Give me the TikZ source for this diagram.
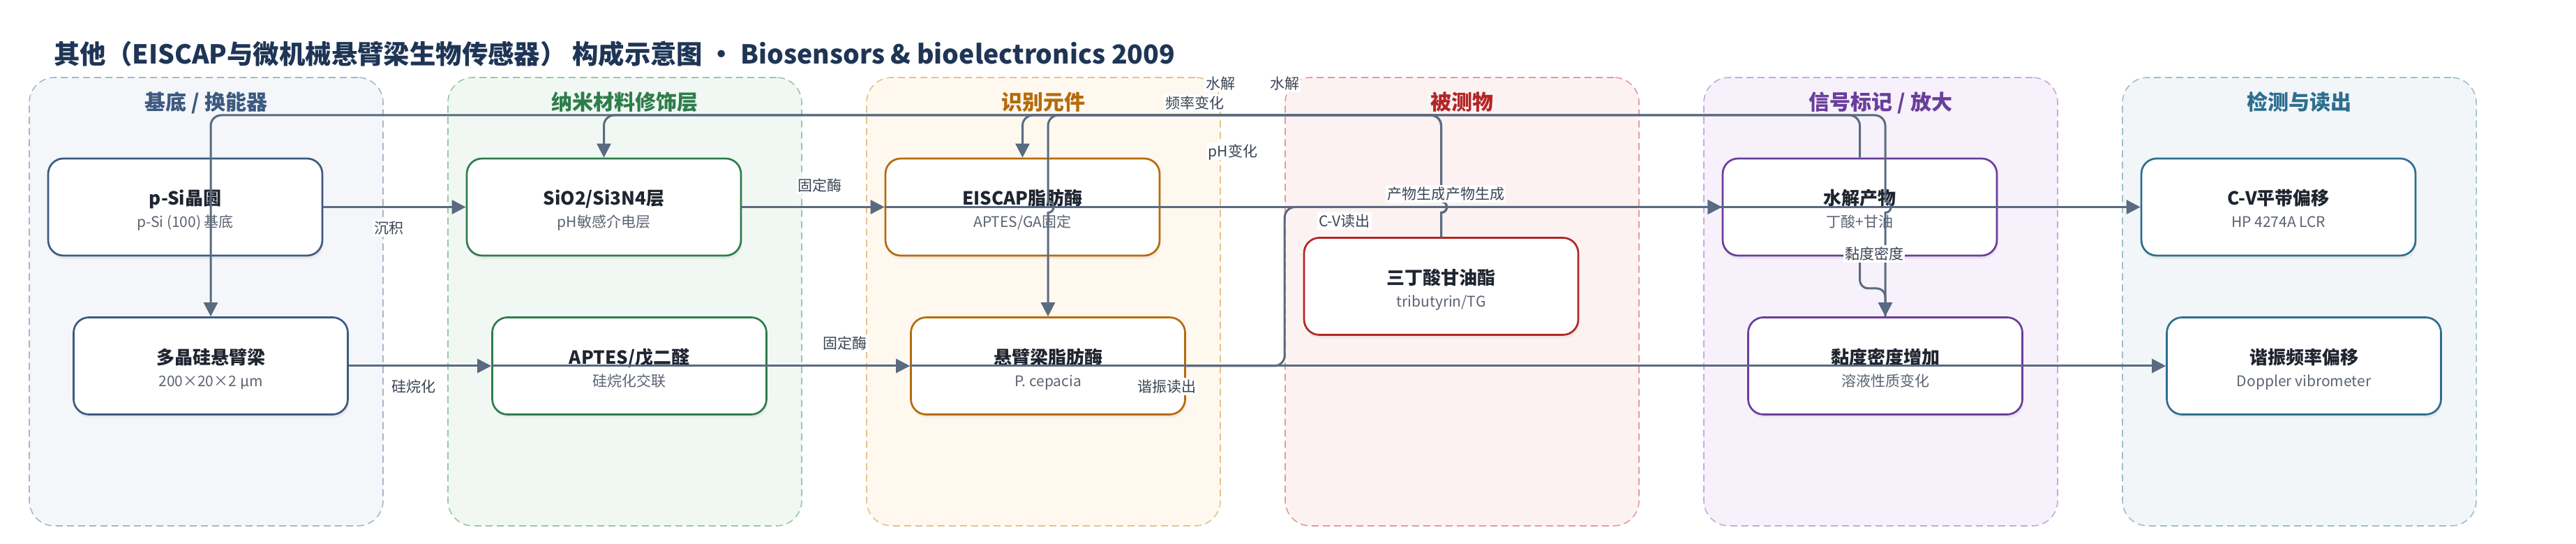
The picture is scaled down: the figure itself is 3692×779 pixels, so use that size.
\documentclass[tikz,border=0pt]{standalone}
\usepackage{fontspec}
\setmainfont{Noto Sans CJK SC}
\usetikzlibrary{arrows.meta,calc,shadows}
\definecolor{edgec}{HTML}{5A6A80}
\definecolor{ttlc}{HTML}{1F2530}
\definecolor{subc}{HTML}{5B6472}
\definecolor{lblc}{HTML}{3B4453}
\definecolor{mainc}{HTML}{1F3556}
\definecolor{gA}{HTML}{3D5A80}\definecolor{gAf}{HTML}{F4F6FA}\definecolor{gAb}{HTML}{A8B6C9}
\definecolor{gB}{HTML}{2E7D4B}\definecolor{gBf}{HTML}{F1F8F3}\definecolor{gBb}{HTML}{96C9A5}
\definecolor{gC}{HTML}{B56B0B}\definecolor{gCf}{HTML}{FEF8EF}\definecolor{gCb}{HTML}{E6C28C}
\definecolor{gD}{HTML}{B32626}\definecolor{gDf}{HTML}{FDF2F2}\definecolor{gDb}{HTML}{E29B9B}
\definecolor{gE}{HTML}{6A3D9B}\definecolor{gEf}{HTML}{F6F1FA}\definecolor{gEb}{HTML}{C6A9DF}
\definecolor{gF}{HTML}{2E6E8F}\definecolor{gFf}{HTML}{F2F6F8}\definecolor{gFb}{HTML}{9DBFCD}
\tikzset{
  grp/.style args={#1/#2}{draw=#1, fill=#2, dash pattern=on 5pt off 3pt, line width=0.8pt,
    rounded corners=18pt, minimum width=253.5pt, minimum height=321pt, inner sep=0pt},
  gttl/.style={font=\fontsize{15pt}{17pt}\selectfont\bfseries, text=#1, inner sep=0pt,
    text height=13.2pt, text depth=1.8pt},
  nbox/.style={draw=#1, line width=1.35pt, fill=white, rounded corners=11pt,
    minimum width=196.5pt, minimum height=69.5pt, inner sep=0pt,
    drop shadow={shadow xshift=0.8pt, shadow yshift=-2.5pt, opacity=0.10}},
  ttl/.style={font=\fontsize{13pt}{15pt}\selectfont\bfseries, text=ttlc, inner sep=0pt,
    text height=11.44pt, text depth=1.56pt},
  sub/.style={font=\fontsize{10.5pt}{12pt}\selectfont, text=subc, inner sep=0pt,
    text height=9.24pt, text depth=1.26pt},
  lbl/.style={font=\fontsize{10.5pt}{12pt}\selectfont, text=lblc, fill=white, inner sep=1pt,
    text height=9.24pt, text depth=1.26pt},
  edge/.style={draw=edgec, line width=1.5pt},
  arr/.style={-{Triangle[length=10pt,width=10pt]}},
}
\newcommand{\mknode}[6]{%
  \node[nbox=#4] (#1) at (#2,#3) {};
  \node[ttl] at ($(#1.center)+(0,-12.5)$) {#5};
  \node[sub] at ($(#1.center)+(0,21.5)$) {#6};
}
\begin{document}
\begin{tikzpicture}[x=0.5pt,y=-0.5pt]
\useasboundingbox (0,0) rectangle (3692,779);
\fill[white] (0,0) rectangle (3692,779);

\node[anchor=west, font=\fontsize{18.7pt}{21pt}\selectfont\bfseries, text=mainc, inner sep=0pt,
  text height=16.46pt, text depth=2.24pt] (title) at (77,77)
  {其他（EISCAP与微机械悬臂梁生物传感器） 构成示意图 · Biosensors \& bioelectronics 2009};

% groups
\node[grp=gAb/gAf] (g1) at (295.5,432) {};
\node[grp=gBb/gBf] (g2) at (895.5,432) {};
\node[grp=gCb/gCf] (g3) at (1495.5,432) {};
\node[grp=gDb/gDf] (g4) at (2095.5,432) {};
\node[grp=gEb/gEf] (g5) at (2695.5,432) {};
\node[grp=gFb/gFf] (g6) at (3295.5,432) {};
\node[gttl=gA] at (295.5,146) {基底 / 换能器};
\node[gttl=gB] at (895.5,146) {纳米材料修饰层};
\node[gttl=gC] at (1495.5,146) {识别元件};
\node[gttl=gD] at (2095.5,146) {被测物};
\node[gttl=gE] at (2695.5,146) {信号标记 / 放大};
\node[gttl=gF] at (3295.5,146) {检测与读出};

% nodes
\mknode{psi}{265.5}{296.5}{gA}{p-Si晶圆}{p-Si (100) 基底}
\mknode{poly}{302}{524}{gA}{多晶硅悬臂梁}{200×20×2 μm}
\mknode{sio}{865.5}{296.5}{gB}{SiO2/Si3N4层}{pH敏感介电层}
\mknode{aptes}{902}{524}{gB}{APTES/戊二醛}{硅烷化交联}
\mknode{eis}{1465.5}{296.5}{gC}{EISCAP脂肪酶}{APTES/GA固定}
\mknode{cenz}{1502}{524}{gC}{悬臂梁脂肪酶}{P. cepacia}
\mknode{tg}{2065.5}{410}{gD}{三丁酸甘油酯}{tributyrin/TG}
\mknode{hydro}{2665.5}{296.5}{gE}{水解产物}{丁酸+甘油}
\mknode{visc}{2702}{524}{gE}{黏度密度增加}{溶液性质变化}
\mknode{cv}{3265.5}{296.5}{gF}{C-V平带偏移}{HP 4274A LCR}
\mknode{reso}{3302}{524}{gF}{谐振频率偏移}{Doppler vibrometer}

\coordinate (bus) at (0,165);
\coordinate (jog) at (0,413);

% edges
\draw[edge,arr] (psi.east) -- (sio.west);
\draw[edge,arr] (poly.east) -- (aptes.west);
\draw[edge,arr] (sio.east) -- (eis.west);
\draw[edge,arr] (aptes.west) -- (cenz.west);
\draw[edge,arr] (eis.west) -- (hydro.west);
\draw[edge,arr] (eis.east) -- (cv.west);
\draw[edge,arr] (cenz.west) -- (reso.west);
\draw[edge,arr,rounded corners=7.5pt] (cenz.east) -- (cenz.east -| g4.west) |- (hydro.west);
\draw[edge,arr,rounded corners=7.5pt] (hydro.north) -- (hydro.north |- bus) -| (sio.north);
\draw[edge,arr,rounded corners=6pt] (hydro.south) -- (hydro.south |- jog) -| (visc.north);
% TG -> EISCAP
\draw[edge,arr] (tg.north) -- ($(tg.north |- eis.center)+(0,8)$)
  .. controls +(10.7,0) and +(10.7,0) .. ($(tg.north |- eis.center)+(0,-8)$)
  -- ($(tg.north |- eis.center)+(0,-20)$) [rounded corners=7.5pt]
  -- (tg.north |- bus) -| (eis.north);
% TG -> cantilever enzyme
\draw[edge,arr] (tg.north) -- ($(tg.north |- eis.center)+(0,8)$)
  .. controls +(10.7,0) and +(10.7,0) .. ($(tg.north |- eis.center)+(0,-8)$)
  -- ($(tg.north |- eis.center)+(0,-20)$) [rounded corners=7.5pt]
  -- (tg.north |- bus) -- (cenz.north |- bus)
  -- ($(cenz.north |- eis.center)+(0,-20)$) [sharp corners]
  -- ($(cenz.north |- eis.center)+(0,-8)$)
  .. controls +(10.7,0) and +(10.7,0) .. ($(cenz.north |- eis.center)+(0,8)$)
  -- (cenz.north);
% viscosity -> poly cantilever
\draw[edge,arr] (visc.north) -- ($(visc.north |- hydro.center)+(0,8)$)
  .. controls +(10.7,0) and +(10.7,0) .. ($(visc.north |- hydro.center)+(0,-8)$)
  -- ($(visc.north |- hydro.center)+(0,-20)$) [rounded corners=7.5pt]
  -- (visc.north |- bus) -| (poly.north);

% labels
\node[lbl] at (557,327) {沉积};
\node[lbl] at (593,554) {硅烷化};
\node[lbl] at (1175,266) {固定酶};
\node[lbl] at (1211,492) {固定酶};
\node[lbl] at (1749,120) {水解};
\node[lbl] at (1841,120) {水解};
\node[lbl] at (1712,148) {频率变化};
\node[lbl] at (1767,217) {pH变化};
\node[lbl] at (2030,278) {产物生成};
\node[lbl] at (2114,278) {产物生成};
\node[lbl] at (1927,317) {C-V读出};
\node[lbl] at (1672,554) {谐振读出};
\node[lbl] at (2686,364) {黏度密度};
\end{tikzpicture}
\end{document}
